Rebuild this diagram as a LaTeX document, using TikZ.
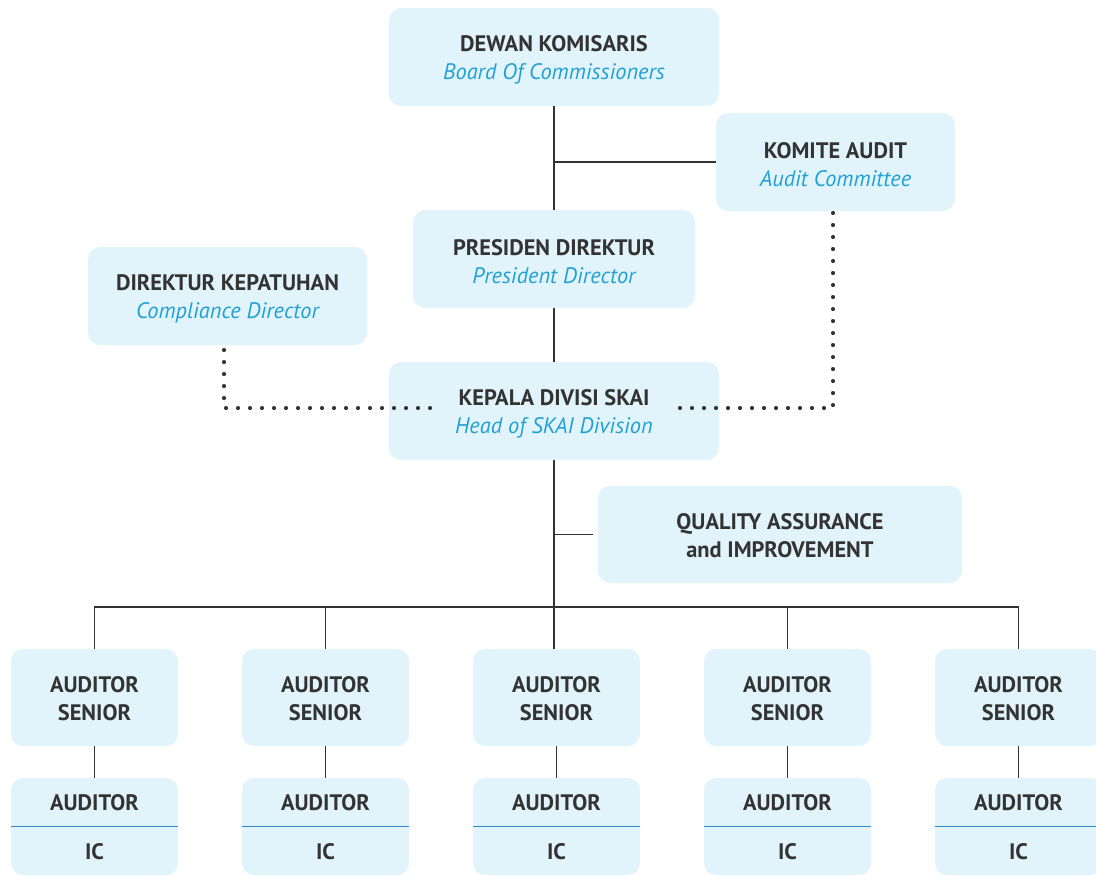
\documentclass[tikz,border=0pt]{standalone}
\usepackage{fontspec}
\setmainfont{PT Sans}
\definecolor{boxfill}{HTML}{E1F4FC}
\definecolor{txt}{HTML}{333333}
\definecolor{subblue}{HTML}{22A0D4}
\definecolor{divblue}{HTML}{2A8BC6}
\definecolor{linegray}{HTML}{333333}
\begin{document}
\begin{tikzpicture}[x=0.75pt,y=-0.75pt,
  box/.style={fill=boxfill, draw=none, rounded corners=9pt, inner sep=0pt},
  conn/.style={draw=linegray, line width=0.9pt},
  dots/.style={draw=linegray, line width=3.1pt, line cap=round, dash pattern=on 0pt off 9pt},
  divider/.style={draw=divblue, line width=0.9pt},
  lbl/.style={text=txt, font=\fontsize{16.8}{21}\selectfont\bfseries, inner sep=0pt, align=center}]
\useasboundingbox (0,0) rectangle (1096,876);
\newcommand{\subt}[1]{{\mdseries\itshape\color{subblue}#1}}
% top boxes
\node[box, minimum width={330*0.75pt}, minimum height={98*0.75pt}] (dk) at (554,57) {};
\node[box, minimum width={239*0.75pt}, minimum height={98*0.75pt}] (ka) at (835.5,162) {};
\node[box, minimum width={282*0.75pt}, minimum height={98*0.75pt}] (pd) at (554,259) {};
\node[box, minimum width={279*0.75pt}, minimum height={98*0.75pt}] (dkp) at (227.5,296) {};
\node[box, minimum width={330*0.75pt}, minimum height={98*0.75pt}] (skai) at (554,411) {};
\node[box, minimum width={364*0.75pt}, minimum height={97*0.75pt}] (qa) at (780,534.5) {};
\node[lbl] (dkt) at ([yshift=-2.2pt]dk.center) {DEWAN KOMISARIS\\\subt{Board Of Commissioners}};
\node[lbl] (kat) at ([yshift=-2.2pt]ka.center) {KOMITE AUDIT\\\subt{Audit Committee}};
\node[lbl] (pdt) at ([yshift=-2.2pt]pd.center) {PRESIDEN DIREKTUR\\\subt{President Director}};
\node[lbl] (dkpt) at ([yshift=-2.2pt]dkp.center) {DIREKTUR KEPATUHAN\\\subt{Compliance Director}};
\node[lbl] (skait) at ([yshift=-2.2pt]skai.center) {KEPALA DIVISI SKAI\\\subt{Head of SKAI Division}};
\node[lbl] (qat) at ([yshift=-0.8pt]qa.center) {QUALITY ASSURANCE\\and IMPROVEMENT};
% auditor rows
\foreach \i/\x in {1/94.5, 2/325.5, 3/556.5, 4/787.5, 5/1018.5} {
  \node[box, minimum width={167*0.75pt}, minimum height={97*0.75pt}] (s\i) at (\x,697.5) {};
  \node[lbl] (st\i) at ([yshift=-0.8pt]s\i.center) {AUDITOR\\SENIOR};
  \node[box, minimum width={167*0.75pt}, minimum height={97*0.75pt}] (a\i) at (\x,826.5) {};
  \draw[divider] (a\i.west) -- (a\i.east);
  \node[lbl] (at\i) at (\x,803) {AUDITOR};
  \node[lbl] (ic\i) at (\x,852) {IC};
}
% solid connectors
\coordinate (bus) at (554,607);
\coordinate (qaend) at (593,534.5);
\draw[conn] (dk.south) -- (pd.north);
\draw[conn] (ka.west) -- (ka.west -| dk.south);
\draw[conn] (pd.south) -- (skai.north);
\draw[conn] (skai.south) -- (bus);
\draw[conn] (qaend -| skai.south) -- (qaend);
\draw[conn] (s1.north) |- (bus) -| (s5.north);
\draw[conn] (s2.north) -- (s2.north |- bus);
\draw[conn] (bus) -- (bus |- s3.north);
\draw[conn] (s4.north) -- (s4.north |- bus);
\foreach \i in {1,...,5} { \draw[conn] (s\i.south) -- (a\i.north); }
% dotted connectors
\coordinate (dls) at (224,350);
\coordinate (dle) at (432,408);
\coordinate (drs) at (833,213);
\coordinate (dre) at (676,408);
\draw[dots] (dls) |- (dle);
\draw[dots] (drs) |- (dre);
\end{tikzpicture}
\end{document}
